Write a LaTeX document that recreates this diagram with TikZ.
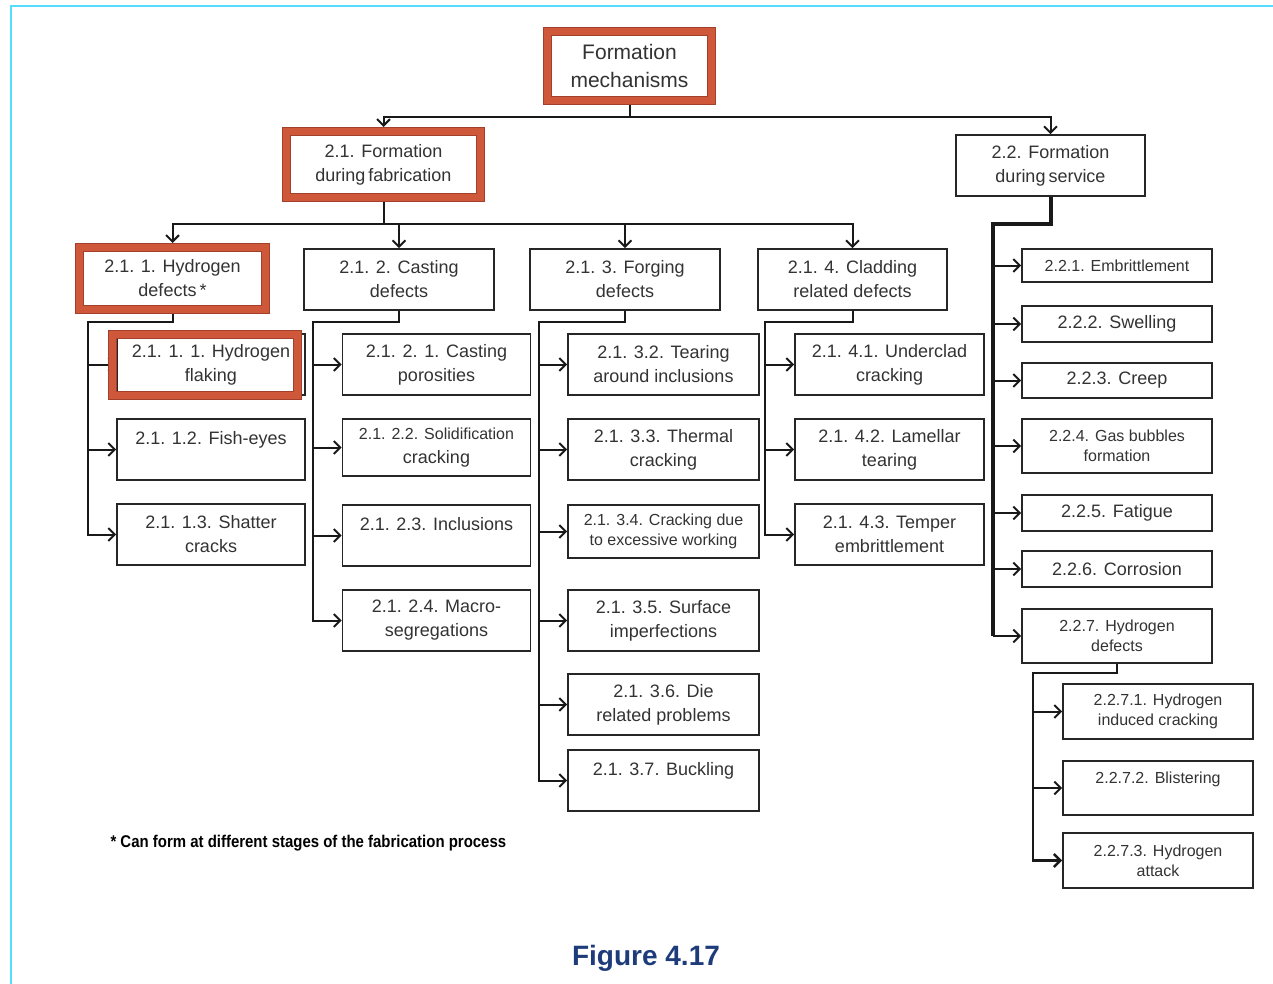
\documentclass[tikz,border=0pt]{standalone}
\usepackage{fontspec}
\setmainfont{Liberation Sans}
\newfontfamily\notefont[FakeStretch=0.88]{Liberation Sans}
\usetikzlibrary{positioning,arrows.meta,backgrounds}
\definecolor{hlred}{HTML}{D0583A}
\definecolor{hldark}{HTML}{A2402B}
\definecolor{pagecyan}{HTML}{55DDFF}
\definecolor{figblue}{HTML}{1F3C7A}
\definecolor{boxtext}{HTML}{333333}
\newcommand\rootfont{\fontsize{21}{28}\selectfont}
\newcommand\nodefont{\fontsize{18}{24}\selectfont}
\newcommand\smnodefont{\fontsize{16}{20}\selectfont}

\begin{document}
\begin{tikzpicture}[x=1pt, y=-1pt,
  node distance=22.4pt,
  box/.style={draw=black!85, line width=1.6pt, fill=white, text=boxtext, font=\nodefont, align=center, minimum width=188pt, minimum height=61pt, inner sep=2pt},
  hlbox/.style={box, draw=hldark, double=hlred, double distance=7pt, line width=1pt, outer sep=4.5pt},
  hlring/.style={draw=hldark, double=hlred, double distance=7pt, line width=1pt},
  svc/.style={box, minimum width=190pt},
  sm/.style={font=\smnodefont},
  conn/.style={draw=black!90, line width=2pt},
  arr/.style={conn, -{Straight Barb[length=6.5pt,width=13pt]}},
  pageline/.style={draw=pagecyan, line width=2pt}
]
\useasboundingbox (0,0) rectangle (1273,984);
\draw[pageline] (1273,6) -- (11,6) -- (11,984);

% top levels
\node[hlbox, font=\rootfont, minimum width=164pt, minimum height=69pt] (root) at (629.5,66) {Formation\\mechanisms};
\node[hlbox, minimum width=194pt, minimum height=66pt] (f21) at (383.5,164.5) {2.1. Formation\\during\,fabrication};
\node[box, minimum width=189pt] (f22) at (1050.5,165.5) {2.2. Formation\\during\,service};

% fabrication groups
\node[hlbox, minimum width=186pt, minimum height=62pt] (h211) at (172.5,278.5) {2.1. 1. Hydrogen\\defects\,*};
\node[box, minimum width=190pt] (h212) at (399,279.5) {2.1. 2. Casting\\defects};
\node[box, minimum width=190pt] (h213) at (625,279.5) {2.1. 3. Forging\\defects};
\node[box, minimum width=189pt] (h214) at (852.5,279.5) {2.1. 4. Cladding\\related defects};

% hydrogen defects
\node[box] (h2111) at (211,364.5) {2.1. 1. 1. Hydrogen\\flaking};
\node[box, below=of h2111] (h2112) {2.1. 1.2. Fish-eyes\\\mbox{}};
\node[box, below=of h2112] (h2113) {2.1. 1.3. Shatter\\cracks};
\draw[hlring] ([xshift=-3.5pt, yshift=-0.8pt]h2111.north west) rectangle ([xshift=-8.3pt]h2111.south east);

% casting defects
\node[box] (h2121) at (436.5,364.5) {2.1. 2. 1. Casting\\porosities};
\node[box, minimum height=57pt, below=of h2121] (h2122) {{\smnodefont 2.1. 2.2. Solidification}\\cracking};
\node[box, below=27.4pt of h2122] (h2123) {2.1. 2.3. Inclusions\\\mbox{}};
\node[box, below=of h2123] (h2124) {2.1. 2.4. Macro-\\segregations};

% forging defects
\node[box, minimum width=191pt] (h2132) at (663.5,364.5) {2.1. 3.2. Tearing\\around inclusions};
\node[box, minimum width=191pt, below=of h2132] (h2133) {2.1. 3.3. Thermal\\cracking};
\node[box, sm, minimum width=191pt, minimum height=53pt, below=23.4pt of h2133] (h2134) {2.1. 3.4. Cracking due\\to excessive working};
\node[box, minimum width=191pt, below=30.4pt of h2134] (h2135) {2.1. 3.5. Surface\\imperfections};
\node[box, minimum width=191pt, below=21.4pt of h2135] (h2136) {2.1. 3.6. Die\\related problems};
\node[box, minimum width=191pt, below=13.4pt of h2136] (h2137) {2.1. 3.7. Buckling\\\mbox{}};

% cladding defects
\node[box, minimum width=189pt] (h2141) at (889.5,364.5) {2.1. 4.1. Underclad\\cracking};
\node[box, minimum width=189pt, below=of h2141] (h2142) {2.1. 4.2. Lamellar\\tearing};
\node[box, minimum width=189pt, below=of h2142] (h2143) {2.1. 4.3. Temper\\embrittlement};

% service
\node[svc, sm, minimum height=33pt] (h221) at (1117,265.5) {2.2.1. Embrittlement};
\node[svc, minimum height=36pt, below=22.4pt of h221] (h222) {2.2.2. Swelling};
\node[svc, minimum height=35pt, below=19.4pt of h222] (h223) {2.2.3. Creep};
\node[svc, sm, minimum height=54pt, below=19.4pt of h223] (h224) {2.2.4. Gas bubbles\\formation};
\node[svc, minimum height=36pt, below=20.4pt of h224] (h225) {2.2.5. Fatigue};
\node[svc, minimum height=36pt, below=18.4pt of h225] (h226) {2.2.6. Corrosion};
\node[svc, sm, minimum height=54pt, below=20.4pt of h226] (h227) {2.2.7. Hydrogen\\defects};

\node[svc, sm, minimum height=55pt] (h2271) at (1158,711.5) {2.2.7.1. Hydrogen\\induced cracking};
\node[svc, sm, minimum height=54pt, below=20.4pt of h2271] (h2272) {2.2.7.2. Blistering\\\mbox{}};
\node[svc, sm, minimum height=55pt, below=16.4pt of h2272] (h2273) {2.2.7.3. Hydrogen\\attack};

\node[font=\notefont\bfseries\fontsize{17}{20}\selectfont, anchor=west] (note) at (107,843) {* Can form at different stages of the fabrication process};
\node[font=\bfseries\fontsize{28}{32}\selectfont, text=figblue] (fig) at (646,958) {Figure 4.17};

\begin{scope}[on background layer]
\draw[arr] (root.south) -- ++(0,12) -| (f21.north);
\draw[arr] (root.south) -- ++(0,12) -| (f22.north);

\draw[arr] (f21.south) -- ++(0,22) -| (h211.north);
\draw[arr] (f21.south) -- ++(0,22) -| (h212.north);
\draw[arr] (f21.south) -- ++(0,22) -| (h213.north);
\draw[arr] (f21.south) -- ++(0,22) -| (h214.north);

\coordinate (b211) at (88,322);
\draw[arr] (h211.south) |- (b211) |- (h2113.west);
\draw[arr] (b211 |- h2111.west) -- (h2111.west);
\draw[arr] (b211 |- h2112.west) -- (h2112.west);

\coordinate (b212) at (313,322);
\draw[arr] (h212.south) |- (b212) |- (h2124.west);
\draw[arr] (b212 |- h2121.west) -- (h2121.west);
\draw[arr] (b212 |- h2122.west) -- (h2122.west);
\draw[arr] (b212 |- h2123.west) -- (h2123.west);

\coordinate (b213) at (539,322);
\draw[arr] (h213.south) |- (b213) |- (h2137.west);
\draw[arr] (b213 |- h2132.west) -- (h2132.west);
\draw[arr] (b213 |- h2133.west) -- (h2133.west);
\draw[arr] (b213 |- h2134.west) -- (h2134.west);
\draw[arr] (b213 |- h2135.west) -- (h2135.west);
\draw[arr] (b213 |- h2136.west) -- (h2136.west);

\coordinate (b214) at (765,322);
\draw[arr] (h214.south) |- (b214) |- (h2143.west);
\draw[arr] (b214 |- h2141.west) -- (h2141.west);
\draw[arr] (b214 |- h2142.west) -- (h2142.west);

\coordinate (b22) at (993,224);
\draw[conn, line width=4pt] (f22.south) |- (b22) -- (b22 |- h227.west);
\draw[arr] (b22 |- h221.west) -- (h221.west);
\draw[arr] (b22 |- h222.west) -- (h222.west);
\draw[arr] (b22 |- h223.west) -- (h223.west);
\draw[arr] (b22 |- h224.west) -- (h224.west);
\draw[arr] (b22 |- h225.west) -- (h225.west);
\draw[arr] (b22 |- h226.west) -- (h226.west);
\draw[arr] (b22 |- h227.west) -- (h227.west);

\coordinate (b227) at (1033,673);
\draw[arr, line width=2.5pt] (h227.south) |- (b227) |- (h2273.west);
\draw[arr] (b227 |- h2271.west) -- (h2271.west);
\draw[arr] (b227 |- h2272.west) -- (h2272.west);
\end{scope}
\end{tikzpicture}
\end{document}
